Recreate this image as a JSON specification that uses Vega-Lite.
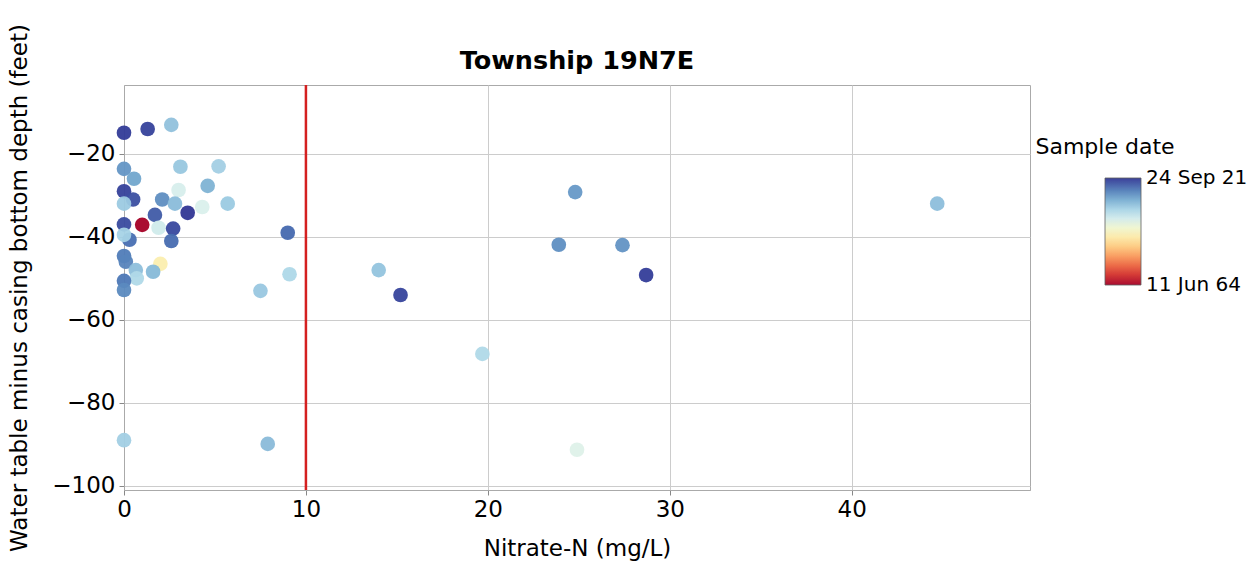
{
  "$schema": "https://vega.github.io/schema/vega-lite/v6.json",
  "autosize": {"type": "none"},
  "padding": {"left": 124, "top": 85, "right": 225, "bottom": 81},
  "width": 906,
  "height": 405,
  "background": "white",
  "config": {
    "font": "DejaVu Sans",
    "view": {"stroke": "#aaaaaa", "strokeWidth": 1},
    "axis": {
      "labelFont": "DejaVu Sans", "titleFont": "DejaVu Sans",
      "labelFontSize": 23, "titleFontSize": 23, "labelColor": "#000", "titleColor": "#000",
      "titleFontWeight": "normal", "gridColor": "#cccccc", "gridWidth": 1,
      "domainColor": "#aaaaaa", "tickColor": "#888888", "tickSize": 5, "labelFlush": false
    }
  },
  "title": {"text": "Township 19N7E", "font": "DejaVu Sans", "fontSize": 25.5, "fontWeight": "bold", "color": "#000", "offset": -51},
  "data": {"values": [
    {"nitrate": 0.0, "depth": -14.9, "year": 2021.19},
    {"nitrate": 1.3, "depth": -14.0, "year": 2020.62},
    {"nitrate": 2.6, "depth": -13.0, "year": 2007.33},
    {"nitrate": 3.1, "depth": -23.1, "year": 2006.58},
    {"nitrate": 5.2, "depth": -23.0, "year": 2005.42},
    {"nitrate": 0.0, "depth": -23.6, "year": 2012.5},
    {"nitrate": 0.55, "depth": -26.0, "year": 2010.67},
    {"nitrate": 4.6, "depth": -27.7, "year": 2009.25},
    {"nitrate": 3.0, "depth": -28.7, "year": 1999.42},
    {"nitrate": 0.0, "depth": -29.0, "year": 2020.75},
    {"nitrate": 0.5, "depth": -31.0, "year": 2019.42},
    {"nitrate": 2.1, "depth": -31.0, "year": 2013.25},
    {"nitrate": 2.8, "depth": -32.0, "year": 2008.0},
    {"nitrate": 5.7, "depth": -32.0, "year": 2006.2},
    {"nitrate": 4.3, "depth": -32.8, "year": 1999.0},
    {"nitrate": 3.5, "depth": -34.2, "year": 2021.73},
    {"nitrate": 1.7, "depth": -34.7, "year": 2018.33},
    {"nitrate": 0.0, "depth": -32.0, "year": 2006.17},
    {"nitrate": 0.0, "depth": -37.0, "year": 2019.83},
    {"nitrate": 1.0, "depth": -37.1, "year": 1964.44},
    {"nitrate": 1.9, "depth": -37.8, "year": 2000.17},
    {"nitrate": 2.7, "depth": -38.0, "year": 2020.08},
    {"nitrate": 0.3, "depth": -40.7, "year": 2016.42},
    {"nitrate": 2.6, "depth": -41.0, "year": 2016.75},
    {"nitrate": 0.0, "depth": -39.5, "year": 2005.0},
    {"nitrate": 0.0, "depth": -44.6, "year": 2015.17},
    {"nitrate": 0.1, "depth": -46.0, "year": 2014.33},
    {"nitrate": 2.0, "depth": -46.5, "year": 1991.0},
    {"nitrate": 0.65, "depth": -48.0, "year": 2007.58},
    {"nitrate": 0.7, "depth": -50.0, "year": 2004.0},
    {"nitrate": 1.6, "depth": -48.4, "year": 2008.42},
    {"nitrate": 0.0, "depth": -50.6, "year": 2015.58},
    {"nitrate": 0.0, "depth": -52.8, "year": 2013.67},
    {"nitrate": 7.5, "depth": -53.0, "year": 2006.5},
    {"nitrate": 9.1, "depth": -49.0, "year": 2004.2},
    {"nitrate": 9.0, "depth": -39.0, "year": 2017.0},
    {"nitrate": 0.0, "depth": -89.0, "year": 2005.5},
    {"nitrate": 7.9, "depth": -89.9, "year": 2008.08},
    {"nitrate": 14.0, "depth": -48.0, "year": 2007.0},
    {"nitrate": 15.2, "depth": -54.0, "year": 2020.42},
    {"nitrate": 24.8, "depth": -29.2, "year": 2012.17},
    {"nitrate": 23.9, "depth": -41.9, "year": 2013.17},
    {"nitrate": 27.4, "depth": -42.0, "year": 2012.67},
    {"nitrate": 28.7, "depth": -49.2, "year": 2021.04},
    {"nitrate": 19.7, "depth": -68.2, "year": 2004.0},
    {"nitrate": 24.9, "depth": -91.3, "year": 1998.42},
    {"nitrate": 44.7, "depth": -32.0, "year": 2007.75}
  ]},
  "layer": [
    {
      "mark": {"type": "circle", "size": 215, "opacity": 0.95},
      "encoding": {
        "x": {"field": "nitrate", "type": "quantitative", "title": "Nitrate-N (mg/L)",
              "scale": {"domain": [0, 49.8], "nice": false, "zero": false},
              "axis": {"values": [0, 10, 20, 30, 40], "labelPadding": 3, "titlePadding": 16}},
        "y": {"field": "depth", "type": "quantitative", "title": "Water table minus casing bottom depth (feet)",
              "scale": {"domain": [-101, -3.4], "nice": false, "zero": false},
              "axis": {"values": [-100, -80, -60, -40, -20], "labelPadding": 4, "titlePadding": 20}},
        "color": {"field": "year", "type": "quantitative", "title": "Sample date",
                  "scale": {"type": "linear", "scheme": "redyellowblue", "domain": [1964.44, 2021.73], "nice": false, "zero": false},
                  "legend": {
                    "orient": "none", "legendX": 911, "legendY": 52,
                    "values": [1964.45, 2021.72],
                    "labelExpr": "datum.value > 2000 ? '24 Sep 21' : '11 Jun 64'",
                    "gradientLength": 107, "gradientThickness": 36,
                    "gradientStrokeColor": "#555555", "gradientStrokeWidth": 0.8,
                    "labelFontSize": 20, "labelFont": "DejaVu Sans", "labelColor": "#000", "labelOffset": 5,
                    "titleFontSize": 22, "titleFont": "DejaVu Sans", "titleFontWeight": "normal", "titleColor": "#000",
                    "titleAnchor": "start", "titleAlign": "center", "titlePadding": 19
                  }}
      }
    },
    {
      "data": {"values": [{"limit": 10}]},
      "mark": {"type": "rule", "color": "#d42020", "strokeWidth": 2.5},
      "encoding": {"x": {"field": "limit", "type": "quantitative"}}
    }
  ]
}
